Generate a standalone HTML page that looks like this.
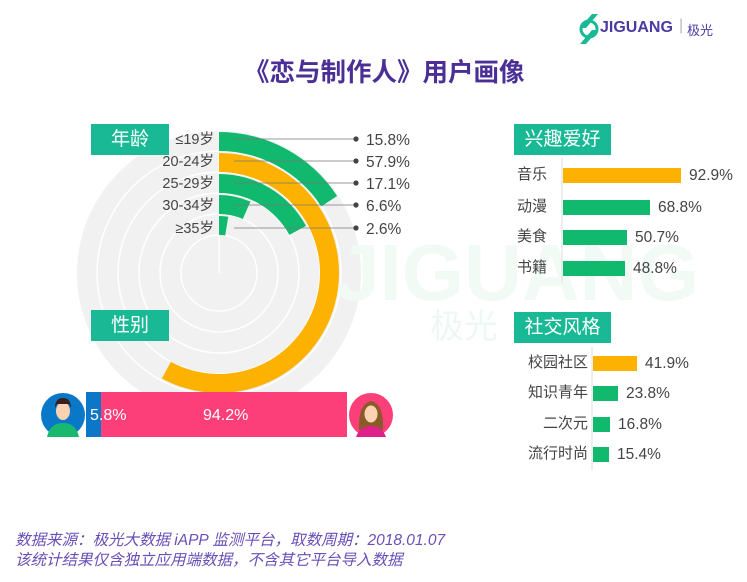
<!DOCTYPE html>
<html><head><meta charset="utf-8"><style>
body{margin:0;width:747px;height:582px;background:#fff;overflow:hidden;position:relative;font-family:"Liberation Sans","Noto Sans CJK SC",sans-serif;}
.a{position:absolute;white-space:nowrap}
.box{position:absolute;background:#19b996;color:#fff;font-size:19px;line-height:31px;text-align:center}
.lab{position:absolute;font-size:15px;color:#444;line-height:18px}
.bar{position:absolute;height:15px}
.val{position:absolute;font-size:15.5px;color:#444;line-height:18px}
</style></head><body>
<svg id="s" width="747" height="582" style="position:absolute;left:0;top:0"></svg>
<div class="a" style="left:244px;top:52px;font-size:25.5px;font-weight:bold;color:#4b2f96">《恋与制作人》用户画像</div>
<div class="a" style="left:600px;top:19px;font-size:16px;font-weight:bold;color:#4b3aa0">JIGUANG</div>
<div class="a" style="left:679px;top:17px;font-size:16px;color:#bbb">|</div>
<div class="a" style="left:687px;top:20px;font-size:13px;color:#4b3aa0">极光</div>
<div class="box" style="left:91px;top:124px;width:78px">年龄</div>
<div class="box" style="left:91px;top:310px;width:78px">性别</div>
<div class="box" style="left:514px;top:124px;width:97px">兴趣爱好</div>
<div class="box" style="left:514px;top:312px;width:97px">社交风格</div>
<div class="a" style="left:15px;top:531px;font-size:15.5px;font-style:italic;color:#6a4fb8;line-height:20px">数据来源：极光大数据 iAPP 监测平台，取数周期：2018.01.07<br>该统计结果仅含独立应用端数据，不含其它平台导入数据</div>
<div id="d"></div>
<script>
var s=document.getElementById('s'),h='';
var cx=219,cy=273;
h+='<circle cx="'+cx+'" cy="'+cy+'" r="142" fill="#f1f1f1"/>';
[122,101,80,59,38].forEach(function(r){h+='<circle cx="'+cx+'" cy="'+cy+'" r="'+r+'" fill="none" stroke="#fff" stroke-width="1.5"/>';});
h+='<line x1="219" y1="131" x2="219" y2="273" stroke="#fff" stroke-width="1.5"/>';
h+='<text x="335" y="300" font-size="80" font-weight="bold" fill="#f2faf6" font-family="Liberation Sans">JIGUANG</text>';
h+='<text x="430" y="338" font-size="34" fill="#eef8f3" font-family="Noto Sans CJK SC">极光</text>';
var rings=[[122,141,15.8,'#10b96e'],[101,120,57.9,'#fdb100'],[80,99,17.1,'#10b96e'],[59,78,6.6,'#10b96e'],[38,57,2.6,'#10b96e']];
function pt(r,a){a=a*Math.PI/180;return [cx+r*Math.sin(a),cy-r*Math.cos(a)];}
rings.forEach(function(g){var a=g[2]*3.6,L=a>180?1:0,p1=pt(g[1],0),p2=pt(g[1],a),p3=pt(g[0],a),p4=pt(g[0],0);
h+='<path d="M'+p1+' A'+g[1]+' '+g[1]+' 0 '+L+' 1 '+p2+' L'+p3+' A'+g[0]+' '+g[0]+' 0 '+L+' 0 '+p4+'Z" fill="'+g[3]+'"/>';});
var ys=[139,161,183,205,228],labs=['≤19岁','20-24岁','25-29岁','30-34岁','≥35岁'],vals=['15.8%','57.9%','17.1%','6.6%','2.6%'];
ys.forEach(function(y,i){h+='<line x1="234" y1="'+y+'" x2="356" y2="'+y+'" stroke="#777" stroke-width="0.8"/><circle cx="356" cy="'+y+'" r="2.6" fill="#444"/>';
h+='<text x="214" y="'+(y+5)+'" text-anchor="end" font-size="14.5" fill="#444" font-family="Liberation Sans, Noto Sans CJK SC">'+labs[i]+'</text>';
h+='<text x="366" y="'+(y+6)+'" font-size="15.5" fill="#444" font-family="Liberation Sans">'+vals[i]+'</text>';});
h+='<rect x="86" y="392" width="261" height="45" fill="#fc3e79"/><rect x="86" y="392" width="15" height="45" fill="#0c77c9"/>';
h+='<text x="90" y="420" font-size="16" fill="#fff" font-family="Liberation Sans">5.8%</text><text x="203" y="420" font-size="16" fill="#fff" font-family="Liberation Sans">94.2%</text>';
h+='<circle cx="63" cy="415" r="22" fill="#0a78c8"/><path d="M47 437 Q50 423 63 423 Q76 423 79 437Z" fill="#18b86e"/><ellipse cx="63" cy="411" rx="7" ry="9" fill="#fcd2b0"/><path d="M55 408 Q55 398 63 398 Q71 398 71 408 L69 404 L57 404Z" fill="#3a1f1a"/>';
h+='<circle cx="371" cy="415" r="22" fill="#fc3e79"/><path d="M359 430 Q358 404 371 401 Q384 404 383 430Z" fill="#8a5a2a"/><ellipse cx="371" cy="414" rx="6.5" ry="8.5" fill="#fcd2b0"/><path d="M356 437 Q360 426 371 426 Q382 426 386 437Z" fill="#e0208a"/>';
h+='<line x1="562" y1="158" x2="562" y2="283" stroke="#ddd"/><line x1="592" y1="347" x2="592" y2="470" stroke="#ddd"/>';
s.innerHTML=h;
var d='',
A=[['音乐',175,681,'92.9%','#fdb100'],['动漫',207,650,'68.8%','#10b96e'],['美食',237,627,'50.7%','#10b96e'],['书籍',268,625,'48.8%','#10b96e']],
B=[['校园社区',363,637,'41.9%','#fdb100'],['知识青年',393,618,'23.8%','#10b96e'],['二次元',424,610,'16.8%','#10b96e'],['流行时尚',454,609,'15.4%','#10b96e']];
A.forEach(function(r){d+='<div class="lab" style="left:517px;top:'+(r[1]-9)+'px">'+r[0]+'</div><div class="bar" style="left:563px;top:'+(r[1]-7)+'px;width:'+(r[2]-563)+'px;background:'+r[4]+'"></div><div class="val" style="left:'+(r[2]+8)+'px;top:'+(r[1]-8)+'px">'+r[3]+'</div>';});
B.forEach(function(r){d+='<div class="lab" style="right:'+(747-588)+'px;top:'+(r[1]-9)+'px">'+r[0]+'</div><div class="bar" style="left:593px;top:'+(r[1]-7)+'px;width:'+(r[2]-593)+'px;background:'+r[4]+'"></div><div class="val" style="left:'+(r[2]+8)+'px;top:'+(r[1]-8)+'px">'+r[3]+'</div>';});
d+='<svg class="a" style="left:578px;top:12px" width="22" height="34"><path d="M2 16 L14 2 L20 2 L8 16Z M20 18 L8 32 L2 32 L14 18Z" fill="#19b996"/><circle cx="11" cy="17" r="8" fill="none" stroke="#19b996" stroke-width="3"/></svg>';
document.getElementById('d').innerHTML=d;
</script>
</body></html>
